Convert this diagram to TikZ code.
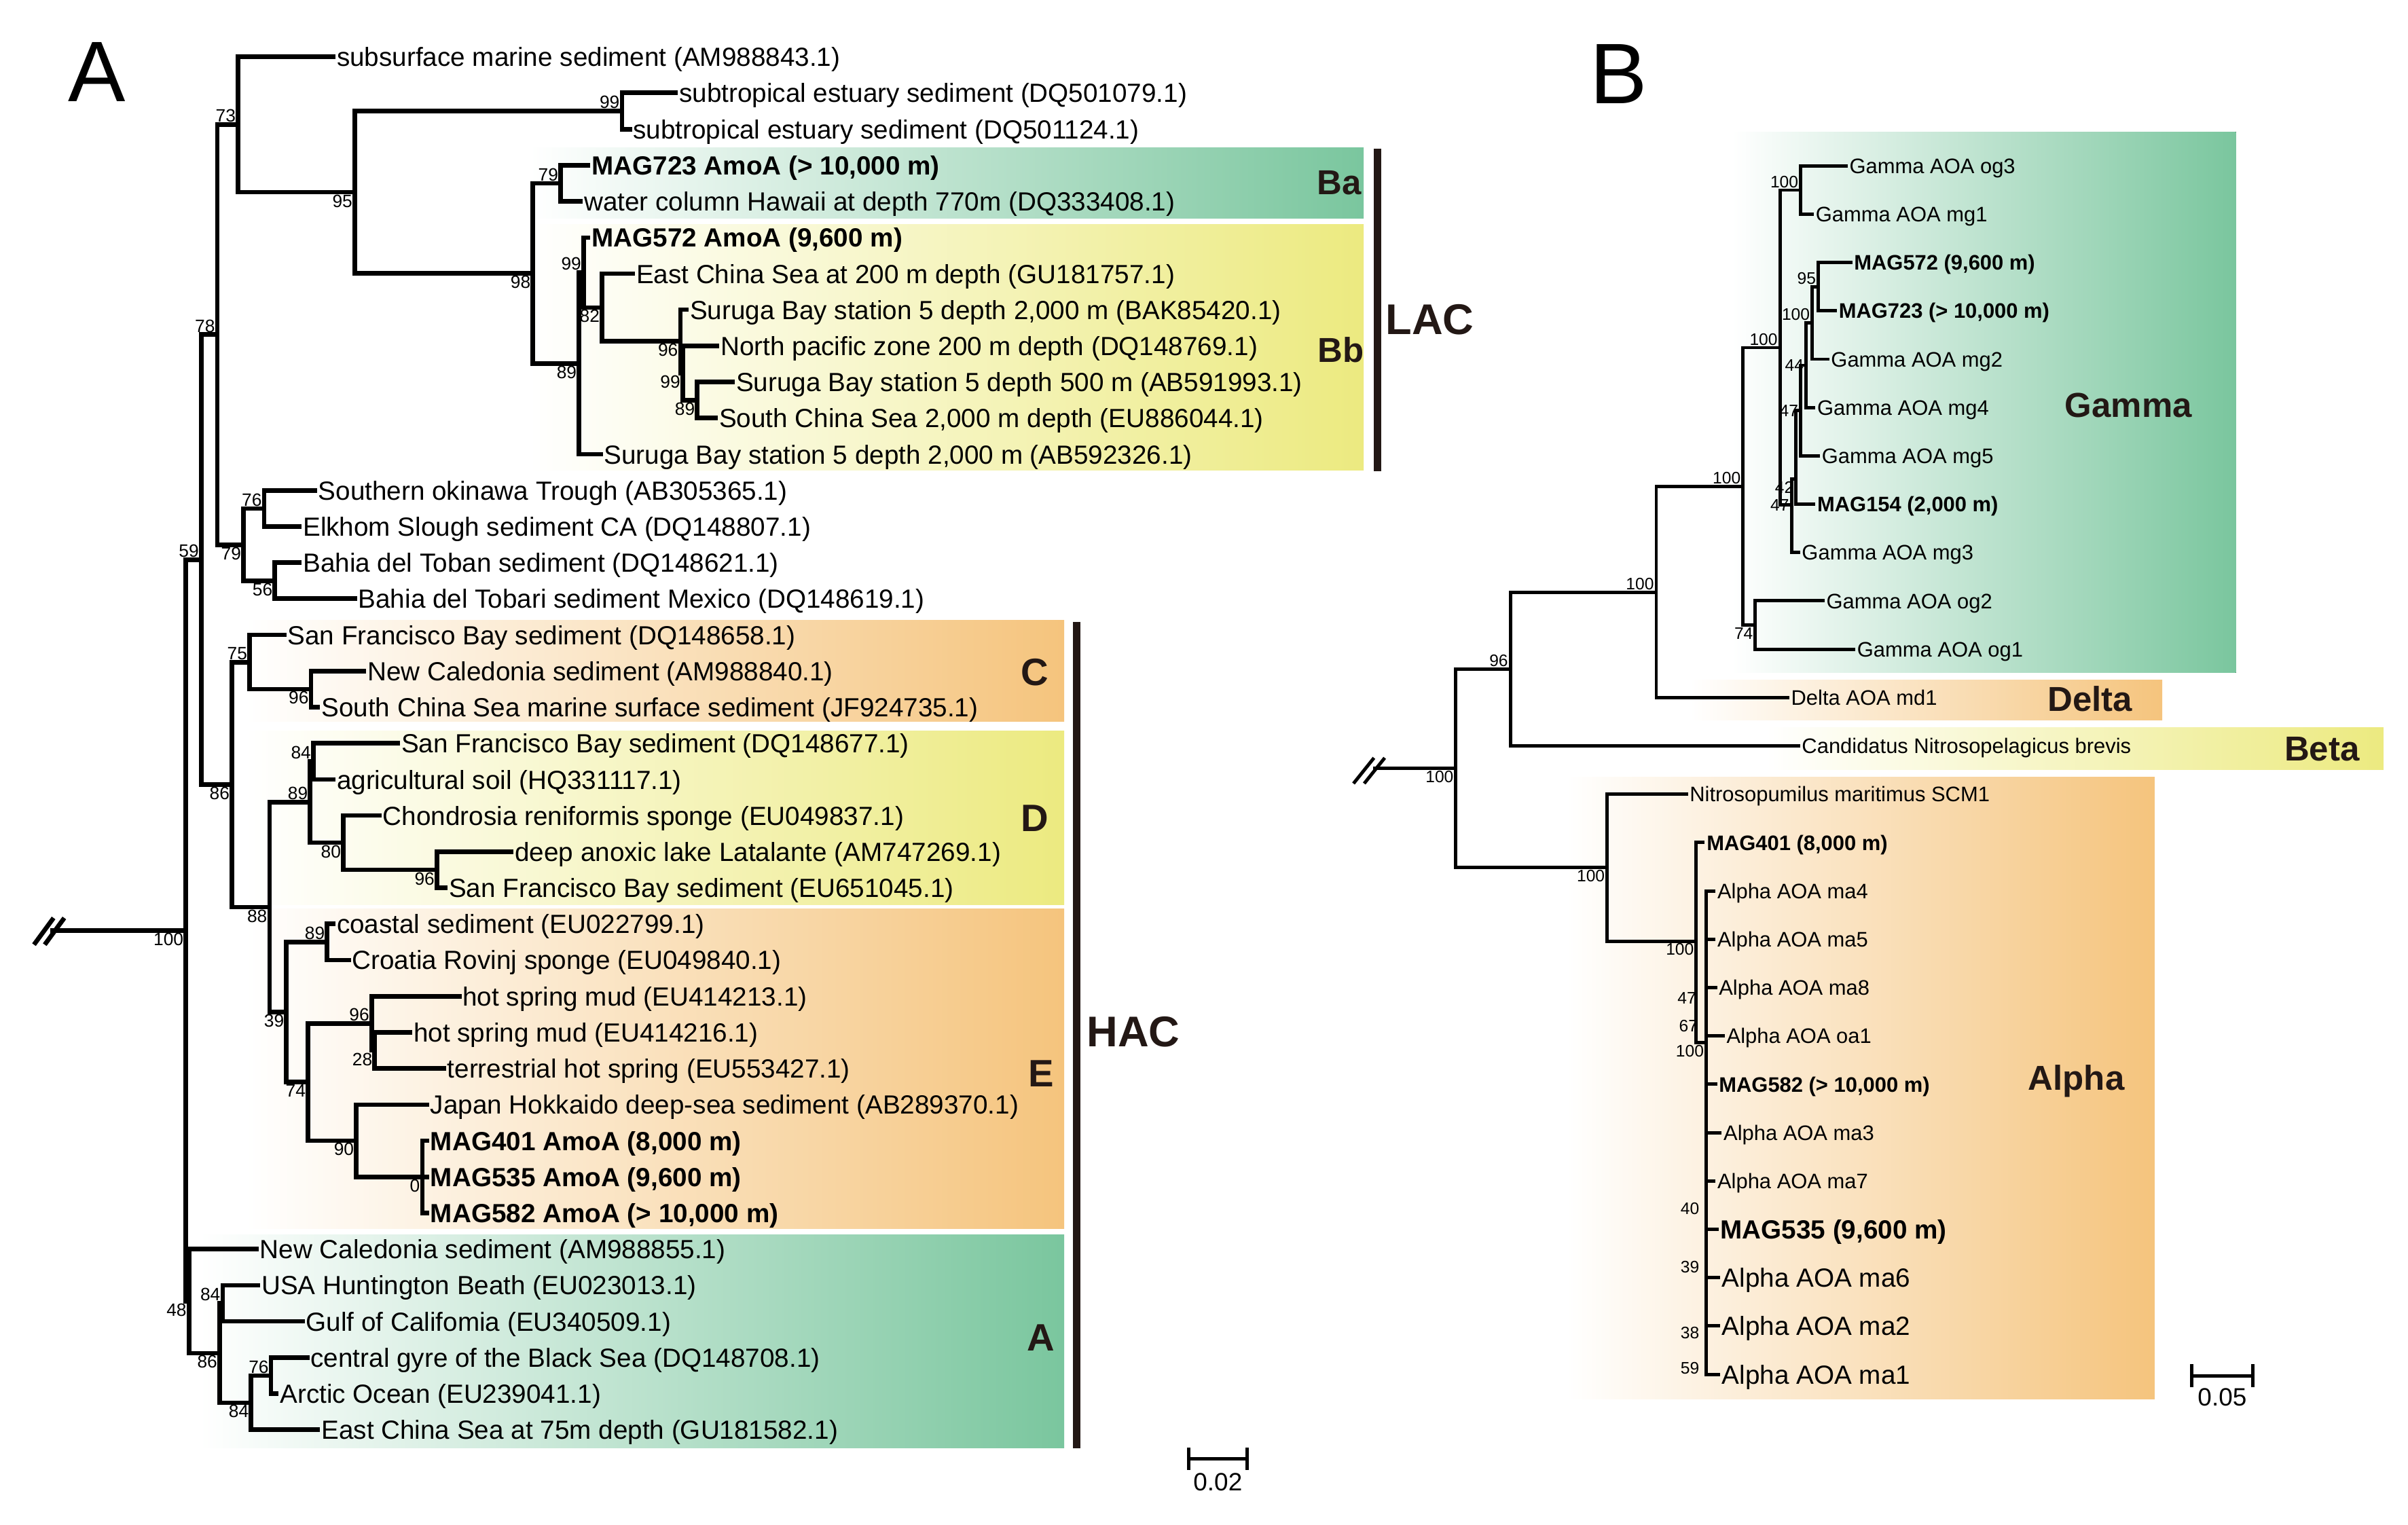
\documentclass[tikz,border=0pt]{standalone}
\usepackage{fontspec}
\setmainfont{Liberation Sans}
\definecolor{agreen}{RGB}{122,198,158}
\definecolor{ayellow}{RGB}{236,234,128}
\definecolor{aorange}{RGB}{245,196,125}
\definecolor{dark}{RGB}{35,24,21}

\begin{document}
\begin{tikzpicture}[
    x=0.22615mm, y=-0.22615mm,
    br/.style={line width=1.9pt, line cap=rect},
    brb/.style={line width=1.4pt, line cap=rect},
    tipa/.style={anchor=west, inner xsep=1.3pt, inner ysep=0pt, text height=8pt, text depth=0pt, font=\fontsize{11}{13}\selectfont},
    tipab/.style={tipa, font=\fontsize{11}{13}\selectfont\bfseries},
    tipb/.style={anchor=west, inner xsep=1.3pt, inner ysep=0pt, text height=6.4pt, text depth=0pt, font=\fontsize{8.8}{10}\selectfont},
    tipbb/.style={tipb, font=\fontsize{8.8}{10}\selectfont\bfseries},
    tipbl/.style={tipb, text height=8pt, font=\fontsize{11}{13}\selectfont},
    tipblb/.style={tipbl, font=\fontsize{11}{13}\selectfont\bfseries},
    bs/.style={font=\fontsize{7.5}{8}\selectfont, inner sep=0.8pt},
    bsb/.style={font=\fontsize{7}{8}\selectfont, inner sep=0.8pt},
    grp/.style={font=\fontsize{16}{18}\selectfont\bfseries, text=dark},
    grpb/.style={font=\fontsize{14.5}{16}\selectfont\bfseries, text=dark},
    grpl/.style={font=\fontsize{18}{20}\selectfont\bfseries, text=dark},
    panel/.style={font=\fontsize{36}{40}\selectfont},
    cladebar/.style={line width=3pt, draw=dark},
    sbar/.style={line width=1.4pt, |-|},
    slab/.style={font=\fontsize{10.5}{12}\selectfont}
    ]
    \useasboundingbox (0,0) rectangle (1568,993);

    \fill[left color=white, right color=agreen] (345,96) rectangle (888,142);
    \fill[left color=white, right color=ayellow] (345,146) rectangle (888,306);
    \fill[left color=white, right color=aorange] (160,404) rectangle (693,470);
    \fill[left color=white, right color=ayellow] (160,476) rectangle (693,589);
    \fill[left color=white, right color=aorange] (160,592) rectangle (693,800);
    \fill[left color=white, right color=agreen] (130,804) rectangle (693,943);
    \fill[left color=white, right color=agreen] (1128,86) rectangle (1456,438);
    \fill[left color=white, right color=aorange] (1100,443) rectangle (1408,469);
    \fill[left color=white, right color=ayellow] (1150,474) rectangle (1552,501);
    \fill[left color=white, right color=aorange] (1020,506) rectangle (1403,911);

    \node (pA) [panel] at (63,47) {A};
    \node (pB) [panel] at (1054,48) {B};

    \node (t1) [tipa] at (217,37) {subsurface marine sediment (AM988843.1)};
    \node (t2) [tipa] at (440,60.5) {subtropical estuary sediment (DQ501079.1)};
    \node (t3) [tipa] at (410,84.1) {subtropical estuary sediment (DQ501124.1)};
    \node (t4) [tipab] at (383,107.6) {MAG723 AmoA (> 10,000 m)};
    \node (t5) [tipa] at (378,131.1) {water column Hawaii at depth 770m (DQ333408.1)};
    \node (t6) [tipab] at (383,154.7) {MAG572 AmoA (9,600 m)};
    \node (t7) [tipa] at (412,178.2) {East China Sea at 200 m depth (GU181757.1)};
    \node (t8) [tipa] at (447,201.7) {Suruga Bay station 5 depth 2,000 m (BAK85420.1)};
    \node (t9) [tipa] at (467,225.2) {North pacific zone 200 m depth (DQ148769.1)};
    \node (t10) [tipa] at (477,248.8) {Suruga Bay station 5 depth 500 m (AB591993.1)};
    \node (t11) [tipa] at (466,272.3) {South China Sea 2,000 m depth (EU886044.1)};
    \node (t12) [tipa] at (391,295.8) {Suruga Bay station 5 depth 2,000 m (AB592326.1)};
    \node (t13) [tipa] at (205,319.4) {Southern okinawa Trough (AB305365.1)};
    \node (t14) [tipa] at (195,342.9) {Elkhom Slough sediment CA (DQ148807.1)};
    \node (t15) [tipa] at (195,366.4) {Bahia del Toban sediment (DQ148621.1)};
    \node (t16) [tipa] at (231,389.9) {Bahia del Tobari sediment Mexico (DQ148619.1)};
    \node (t17) [tipa] at (185,413.5) {San Francisco Bay sediment (DQ148658.1)};
    \node (t18) [tipa] at (237,437) {New Caledonia sediment (AM988840.1)};
    \node (t19) [tipa] at (207,460.5) {South China Sea marine surface sediment (JF924735.1)};
    \node (t20) [tipa] at (259,484.1) {San Francisco Bay sediment (DQ148677.1)};
    \node (t21) [tipa] at (217,507.6) {agricultural soil (HQ331117.1)};
    \node (t22) [tipa] at (247,531.1) {Chondrosia reniformis sponge (EU049837.1)};
    \node (t23) [tipa] at (333,554.7) {deep anoxic lake Latalante (AM747269.1)};
    \node (t24) [tipa] at (290,578.2) {San Francisco Bay sediment (EU651045.1)};
    \node (t25) [tipa] at (217,601.7) {coastal sediment (EU022799.1)};
    \node (t26) [tipa] at (227,625.2) {Croatia Rovinj sponge (EU049840.1)};
    \node (t27) [tipa] at (299,648.8) {hot spring mud (EU414213.1)};
    \node (t28) [tipa] at (267,672.3) {hot spring mud (EU414216.1)};
    \node (t29) [tipa] at (289,695.8) {terrestrial hot spring (EU553427.1)};
    \node (t30) [tipa] at (278,719.4) {Japan Hokkaido deep-sea sediment (AB289370.1)};
    \node (t31) [tipab] at (278,742.9) {MAG401 AmoA (8,000 m)};
    \node (t32) [tipab] at (278,766.4) {MAG535 AmoA (9,600 m)};
    \node (t33) [tipab] at (278,790) {MAG582 AmoA (> 10,000 m)};
    \node (t34) [tipa] at (167,813.5) {New Caledonia sediment (AM988855.1)};
    \node (t35) [tipa] at (168,837) {USA Huntington Beath (EU023013.1)};
    \node (t36) [tipa] at (197,860.5) {Gulf of Califomia (EU340509.1)};
    \node (t37) [tipa] at (200,884.1) {central gyre of the Black Sea (DQ148708.1)};
    \node (t38) [tipa] at (180,907.6) {Arctic Ocean (EU239041.1)};
    \node (t39) [tipa] at (207,931.1) {East China Sea at 75m depth (GU181582.1)};

    \coordinate[label={[bs]below left:100}] (root) at (121,606);
    \coordinate (rootA) at (34,606);
    \coordinate[label={[bs]above left:59}] (n59) at (131,364.5);
    \coordinate[label={[bs]above left:78}] (n78) at (141.5,217.9);
    \coordinate[label={[bs]above left:73}] (n73) at (155,81.1);
    \coordinate[label={[bs]below left:95}] (n95) at (231,125.2);
    \coordinate[label={[bs]above left:99}] (n99a) at (405,72.3);
    \coordinate[label={[bs]below left:98}] (n98) at (347,178);
    \coordinate[label={[bs]above left:79}] (n79) at (365,119.4);
    \coordinate[label={[bs]below left:89}] (n89) at (377,236.7);
    \coordinate[label={[bs]above left:99}] (n99b) at (380,177.5);
    \coordinate[label={[bs]below left:82}] (n82) at (392,200.3);
    \coordinate[label={[bs]below left:96}] (n96) at (443,222.3);
    \coordinate[label={[bs]below left:99}] (nx99) at (444.5,242.9);
    \coordinate[label={[bs]below left:89}] (n89c) at (454,260.6);
    \coordinate[label={[bs]below left:79}] (n79g) at (158.5,354.7);
    \coordinate[label={[bs]above left:76}] (n76) at (172,331.2);
    \coordinate[label={[bs]below left:56}] (n56) at (179,378.2);
    \coordinate[label={[bs]below left:86}] (n86) at (151,511);
    \coordinate[label={[bs]above left:75}] (n75) at (162.5,431.2);
    \coordinate[label={[bs]below left:96}] (n96c) at (202.5,448.8);
    \coordinate[label={[bs]below left:88}] (n88) at (175.5,590.8);
    \coordinate[label={[bs]above left:89}] (n89d) at (202,522.4);
    \coordinate[label={[bs]above left:84}] (n84) at (204,495.9);
    \coordinate[label={[bs]below left:80}] (n80) at (223.5,548.8);
    \coordinate[label={[bs]below left:96}] (n96d) at (284.5,566.5);
    \coordinate[label={[bs]below left:39}] (n39) at (186.5,659.1);
    \coordinate[label={[bs]above left:89}] (n89e) at (213,613.5);
    \coordinate[label={[bs]below left:74}] (n74) at (200.5,704.7);
    \coordinate[label={[bs]above left:96}] (n96e) at (242,666.5);
    \coordinate[label={[bs]below left:28}] (n28) at (244,684.1);
    \coordinate[label={[bs]below left:90}] (n90) at (232,742.9);
    \coordinate[label={[bs]below left:0}] (n0) at (275,766.4);
    \coordinate[label={[bs]below left:48}] (n48) at (123,847.4);
    \coordinate[label={[bs]below left:86}] (n86a) at (143,881.2);
    \coordinate[label={[bs]above left:84}] (n84a) at (145,848.8);
    \coordinate[label={[bs]below left:84}] (n84b) at (163.5,913.5);
    \coordinate[label={[bs]above left:76}] (n76b) at (176.5,895.9);

    \draw[br] (rootA) -- (root);
    \draw[br] ([shift={(-11,8)}]rootA) -- ++(11,-15);
    \draw[br] ([shift={(-4,8)}]rootA) -- ++(11,-15);
    \draw[br] (root) |- (n59) (root) |- (n48);
    \draw[br] (n59) |- (n78) (n59) |- (n86);
    \draw[br] (n78) |- (n73) (n78) |- (n79g);
    \draw[br] (n73) |- (t1.west) (n73) |- (n95);
    \draw[br] (n95) |- (n99a) (n95) |- (n98);
    \draw[br] (n99a) |- (t2.west) (n99a) |- (t3.west);
    \draw[br] (n98) |- (n79) (n98) |- (n89);
    \draw[br] (n79) |- (t4.west) (n79) |- (t5.west);
    \draw[br] (n89) |- (n99b) (n89) |- (t12.west);
    \draw[br] (n99b) |- (t6.west) (n99b) |- (n82);
    \draw[br] (n82) |- (t7.west) (n82) |- (n96);
    \draw[br] (n96) |- (t8.west) (n96) |- (nx99);
    \draw[br] (nx99) |- (t9.west) (nx99) |- (n89c);
    \draw[br] (n89c) |- (t10.west) (n89c) |- (t11.west);
    \draw[br] (n79g) |- (n76) (n79g) |- (n56);
    \draw[br] (n76) |- (t13.west) (n76) |- (t14.west);
    \draw[br] (n56) |- (t15.west) (n56) |- (t16.west);
    \draw[br] (n86) |- (n75) (n86) |- (n88);
    \draw[br] (n75) |- (t17.west) (n75) |- (n96c);
    \draw[br] (n96c) |- (t18.west) (n96c) |- (t19.west);
    \draw[br] (n88) |- (n89d) (n88) |- (n39);
    \draw[br] (n89d) |- (n84) (n89d) |- (n80);
    \draw[br] (n84) |- (t20.west) (n84) |- (t21.west);
    \draw[br] (n80) |- (t22.west) (n80) |- (n96d);
    \draw[br] (n96d) |- (t23.west) (n96d) |- (t24.west);
    \draw[br] (n39) |- (n89e) (n39) |- (n74);
    \draw[br] (n89e) |- (t25.west) (n89e) |- (t26.west);
    \draw[br] (n74) |- (n96e) (n74) |- (n90);
    \draw[br] (n96e) |- (t27.west) (n96e) |- (n28);
    \draw[br] (n28) |- (t28.west) (n28) |- (t29.west);
    \draw[br] (n90) |- (t30.west) (n90) |- (n0);
    \draw[br] (n0) |- (t31.west) (n0) |- (t32.west) (n0) |- (t33.west);
    \draw[br] (n48) |- (t34.west) (n48) |- (n86a);
    \draw[br] (n86a) |- (n84a) (n86a) |- (n84b);
    \draw[br] (n84a) |- (t35.west) (n84a) |- (t36.west);
    \draw[br] (n84b) |- (n76b) (n84b) |- (t39.west);
    \draw[br] (n76b) |- (t37.west) (n76b) |- (t38.west);

    \node (gBa) [grpb] at (872,119) {Ba};
    \node (gBb) [grpb] at (873,228) {Bb};
    \node (gC) [grp] at (674,438) {C};
    \node (gD) [grp] at (674,533) {D};
    \node (gE) [grp] at (678,699) {E};
    \node (gA) [grp] at (678,871) {A};
    \coordinate (lac1) at (897,97);
    \coordinate (lac2) at (897,307);
    \coordinate (hac1) at (701,405);
    \coordinate (hac2) at (701,943);
    \draw[cladebar] (lac1) -- (lac2);
    \draw[cladebar] (hac1) -- (hac2);
    \node (gLAC) [grpl] at (931,208) {LAC};
    \node (gHAC) [grpl] at (738,672) {HAC};

    \coordinate (sa1) at (773,950);
    \coordinate (sa2) at (813,950);
    \draw[sbar] (sa1) -- (sa2);
    \node (sla) [slab] at (793,965) {0.02};

    \node (u1) [tipb] at (1202,108) {Gamma AOA og3};
    \node (u2) [tipb] at (1180,139.5) {Gamma AOA mg1};
    \node (u3) [tipbb] at (1205,171) {MAG572 (9,600 m)};
    \node (u4) [tipbb] at (1195,202.4) {MAG723 (> 10,000 m)};
    \node (u5) [tipb] at (1190,233.9) {Gamma AOA mg2};
    \node (u6) [tipb] at (1181,265.4) {Gamma AOA mg4};
    \node (u7) [tipb] at (1184,296.9) {Gamma AOA mg5};
    \node (u8) [tipbb] at (1181,328.4) {MAG154 (2,000 m)};
    \node (u9) [tipb] at (1171,359.8) {Gamma AOA mg3};
    \node (u10) [tipb] at (1187,391.3) {Gamma AOA og2};
    \node (u11) [tipb] at (1207,422.8) {Gamma AOA og1};
    \node (u12) [tipb] at (1164,454.3) {Delta AOA md1};
    \node (u13) [tipb] at (1171,485.8) {Candidatus Nitrosopelagicus brevis};
    \node (u14) [tipb] at (1098,517.2) {Nitrosopumilus maritimus SCM1};
    \node (u15) [tipbb] at (1109,548.7) {MAG401 (8,000 m)};
    \node (u16) [tipb] at (1116,580.2) {Alpha AOA ma4};
    \node (u17) [tipb] at (1116,611.7) {Alpha AOA ma5};
    \node (u18) [tipb] at (1117,643.2) {Alpha AOA ma8};
    \node (u19) [tipb] at (1122,674.6) {Alpha AOA oa1};
    \node (u20) [tipbb] at (1117,706.1) {MAG582 (> 10,000 m)};
    \node (u21) [tipb] at (1120,737.6) {Alpha AOA ma3};
    \node (u22) [tipb] at (1116,769.1) {Alpha AOA ma7};
    \node (u23) [tipblb] at (1118,800.6) {MAG535 (9,600 m)};
    \node (u24) [tipbl] at (1119,832) {Alpha AOA ma6};
    \node (u25) [tipbl] at (1119,863.5) {Alpha AOA ma2};
    \node (u26) [tipbl] at (1119,895) {Alpha AOA ma1};

    \coordinate[label={[bsb]below left:100}] (mroot) at (948,500.4);
    \coordinate (rootB) at (895,500.4);
    \coordinate[label={[bsb]above left:96}] (m96) at (983.5,435.7);
    \coordinate[label={[bsb]above left:100}] (m100a) at (1078.5,385.6);
    \coordinate[label={[bsb]above left:100}] (m100b) at (1135,316.8);
    \coordinate[label={[bsb]below left:74}] (m74) at (1143,407.1);
    \coordinate[label={[bsb]above left:100}] (m100c) at (1159,226.4);
    \coordinate[label={[bsb]above left:100}] (m100d) at (1172.5,123.8);
    \coordinate[label={[bsb]left:47}] (m47l) at (1166.5,328.9);
    \coordinate[label={[bsb]below left:42}] (m42) at (1169.5,312);
    \coordinate[label={[bsb]left:47}] (m47u) at (1172.5,267.4);
    \coordinate[label={[bsb]left:44}] (m44) at (1176,237.9);
    \coordinate[label={[bsb]above left:100}] (m100e) at (1180,210.3);
    \coordinate[label={[bsb]above left:95}] (m95) at (1184,186.7);
    \coordinate[label={[bsb]below left:100}] (m100al) at (1046.5,565);
    \coordinate[label={[bsb]below left:100}] (m100i) at (1104.5,612.9);
    \coordinate[label={[bsb]below left:100}] (ma) at (1111,679);
    \coordinate[label={[bsb]left:47}] (a47) at (1106,650);
    \coordinate[label={[bsb]left:67}] (a67) at (1107,668);
    \coordinate[label={[bsb]left:40}] (a40) at (1108,787);
    \coordinate[label={[bsb]left:39}] (a39) at (1108,825);
    \coordinate[label={[bsb]left:38}] (a38) at (1108,868);
    \coordinate[label={[bsb]left:59}] (a59) at (1108,891);

    \draw[brb] (rootB) -- (mroot);
    \draw[brb] ([shift={(-13,9)}]rootB) -- ++(12,-15);
    \draw[brb] ([shift={(-6,9)}]rootB) -- ++(12,-15);
    \draw[brb] (mroot) |- (m96) (mroot) |- (m100al);
    \draw[brb] (m96) |- (m100a) (m96) |- (u13.west);
    \draw[brb] (m100a) |- (m100b) (m100a) |- (u12.west);
    \draw[brb] (m100b) |- (m100c) (m100b) |- (m74);
    \draw[brb] (m74) |- (u10.west) (m74) |- (u11.west);
    \draw[brb] (m100c) |- (m100d) (m100c) |- (m47l);
    \draw[brb] (m100d) |- (u1.west) (m100d) |- (u2.west);
    \draw[brb] (m47l) |- (m42) (m47l) |- (u9.west);
    \draw[brb] (m42) |- (m47u) (m42) |- (u8.west);
    \draw[brb] (m47u) |- (m44) (m47u) |- (u7.west);
    \draw[brb] (m44) |- (m100e) (m44) |- (u6.west);
    \draw[brb] (m100e) |- (m95) (m100e) |- (u5.west);
    \draw[brb] (m95) |- (u3.west) (m95) |- (u4.west);
    \draw[brb] (m100al) |- (u14.west) (m100al) |- (m100i);
    \draw[brb] (m100i) |- (u15.west) (m100i) |- (ma);
    \foreach \i in {16,...,26}
      \draw[brb] (ma) |- (u\i.west);

    \node (gGamma) [grpb] at (1386,264) {Gamma};
    \node (gDelta) [grpb] at (1361,455) {Delta};
    \node (gBeta) [grpb] at (1512,488) {Beta};
    \node (gAlpha) [grpb] at (1352,704) {Alpha};

    \coordinate (sb1) at (1426,896);
    \coordinate (sb2) at (1468,896);
    \draw[sbar] (sb1) -- (sb2);
    \node (slb) [slab] at (1447,910) {0.05};
  \end{tikzpicture}
\end{document}
